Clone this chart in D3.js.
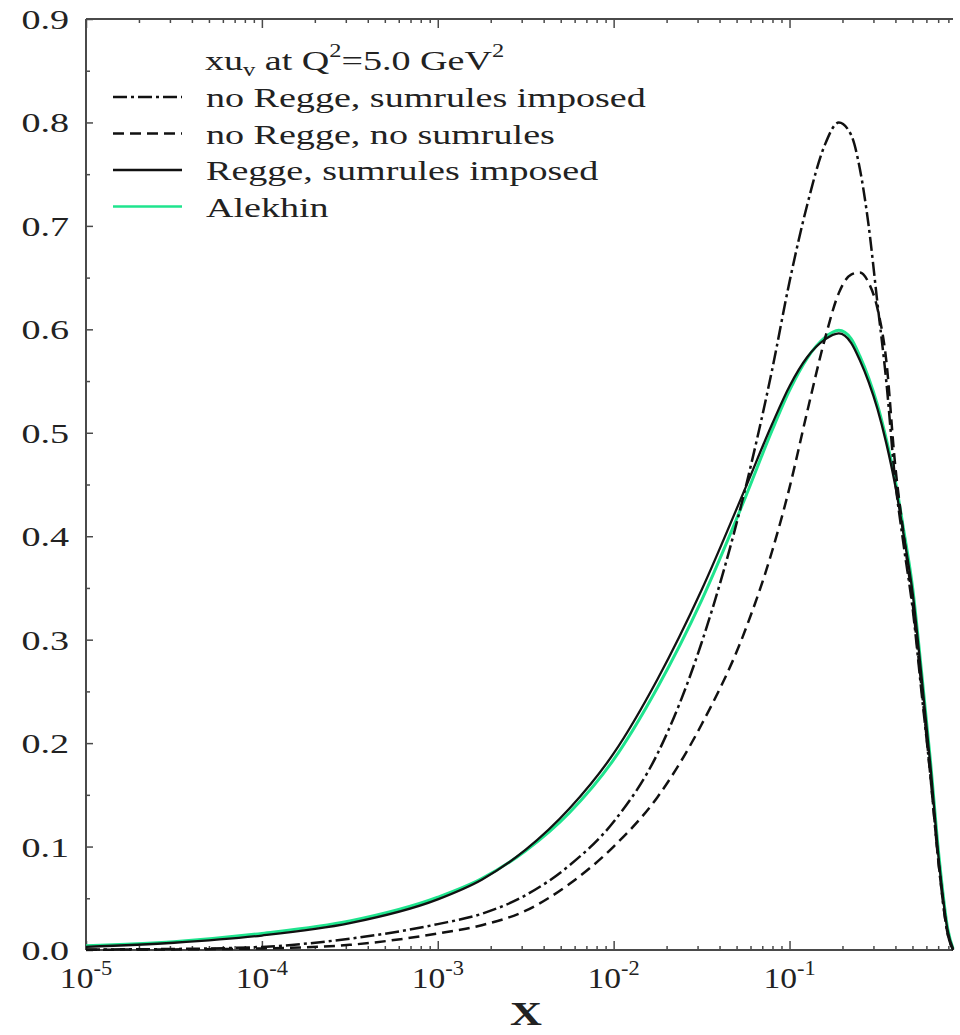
<!DOCTYPE html>
<meta charset="utf-8">
<style>
  body { margin: 0; background: #fff; }
  text { font-family: "Liberation Serif", "Times New Roman", serif; fill: #222; }
</style>
<script src="https://d3js.org/d3.v7.min.js"></script>
<div id="my_dataviz"></div>
<script>

// x grid, as log10(x)
var logX = [-5, -4.5, -4, -3.5, -3, -2.75, -2.5, -2.25, -2, -1.75, -1.5, -1.25, -1.1, -1,
            -0.9, -0.8, -0.72, -0.65, -0.6, -0.55, -0.5, -0.45, -0.4, -0.35, -0.3, -0.25,
            -0.2, -0.15, -0.1, -0.07];

// no Regge, sumrules imposed (dash-dot)
var noReggeSum = [0.0005, 0.001, 0.003, 0.011, 0.025, 0.035, 0.053, 0.082, 0.124, 0.19,
                  0.297, 0.447, 0.56, 0.646, 0.72, 0.778, 0.80, 0.788, 0.755, 0.70,
                  0.625, 0.55, 0.455, 0.39, 0.33, 0.25, 0.17, 0.08, 0.015, 0.0];

// no Regge, no sumrules (dashed)
var noReggeNoSum = [0.0003, 0.0006, 0.0015, 0.005, 0.016, 0.024, 0.038, 0.064, 0.10, 0.148,
                    0.218, 0.31, 0.385, 0.447, 0.52, 0.59, 0.635, 0.653, 0.655, 0.645,
                    0.62, 0.57, 0.47, 0.40, 0.335, 0.255, 0.17, 0.08, 0.015, 0.0];

// Regge, sumrules imposed (solid black)
var reggeSum = [0.003, 0.007, 0.014, 0.026, 0.049, 0.068, 0.097, 0.137, 0.19, 0.262,
                0.348, 0.447, 0.508, 0.545, 0.573, 0.59, 0.596, 0.587, 0.57, 0.549,
                0.523, 0.49, 0.45, 0.40, 0.345, 0.265, 0.18, 0.085, 0.018, 0.001];

// Alekhin (green)
var alekhin = [0.004, 0.008, 0.016, 0.028, 0.051, 0.069, 0.096, 0.133, 0.184, 0.254,
               0.338, 0.438, 0.502, 0.541, 0.572, 0.592, 0.599, 0.591, 0.574, 0.553,
               0.527, 0.494, 0.455, 0.405, 0.35, 0.27, 0.185, 0.09, 0.02, 0.001];

var yTicks = [0, 0.1, 0.2, 0.3, 0.4, 0.5, 0.6, 0.7, 0.8, 0.9];
var xDecades = [-5, -4, -3, -2, -1];
var legendNames = ["no Regge, sumrules imposed", "no Regge, no sumrules",
                   "Regge, sumrules imposed", "Alekhin"];

var W = 960, H = 1035;
var mLeft = 86, mRight = 953, mTop = 19, mBottom = 950;

var svg = d3.select("#my_dataviz").append("svg")
    .attr("width", W).attr("height", H);

var x = d3.scaleLog().domain([1e-5, 0.85]).range([mLeft, mRight]);
var y = d3.scaleLinear().domain([0, 0.9]).range([mBottom, mTop]);

// the source picture is stretched sideways, so text gets a horizontal scale
function label(sel, px, py, size, anchor, sx) {
  return sel.append("text")
    .attr("transform", "translate(" + px + "," + py + ") scale(" + (sx || 1.36) + ",1)")
    .attr("text-anchor", anchor)
    .style("font-size", size + "px");
}

// minor x ticks: 2..9 times each decade
var xMinor = [];
xDecades.forEach(function(d) {
  for (var k = 2; k <= 9; k++) {
    var v = k * Math.pow(10, d);
    if (v <= 0.85) xMinor.push(v);
  }
});
var xMajor = xDecades.map(function(d) { return Math.pow(10, d); });

var axisColor = "#4a4a4a";

// bottom and top axes (ticks point inward)
svg.append("g").attr("transform", "translate(0," + mBottom + ")")
  .call(d3.axisBottom(x).tickValues(xMajor).tickSize(-9).tickFormat(""));
svg.append("g").attr("transform", "translate(0," + mBottom + ")")
  .call(d3.axisBottom(x).tickValues(xMinor).tickSize(-4).tickFormat(""));
svg.append("g").attr("transform", "translate(0," + mTop + ")")
  .call(d3.axisTop(x).tickValues(xMajor).tickSize(-9).tickFormat(""));
svg.append("g").attr("transform", "translate(0," + mTop + ")")
  .call(d3.axisTop(x).tickValues(xMinor).tickSize(-4).tickFormat(""));

// left axis
var yMinor = d3.range(0.05, 0.9, 0.1);
svg.append("g").attr("transform", "translate(" + mLeft + ",0)")
  .call(d3.axisLeft(y).tickValues(yTicks).tickSize(-7).tickFormat(""));
svg.append("g").attr("transform", "translate(" + mLeft + ",0)")
  .call(d3.axisLeft(y).tickValues(yMinor).tickSize(-4).tickFormat(""));

svg.selectAll(".domain").remove();
svg.selectAll(".tick line").attr("stroke", axisColor).attr("stroke-width", 1.5);

// frame lines: left, top, bottom
svg.append("line").attr("x1", mLeft).attr("x2", mLeft).attr("y1", mTop).attr("y2", mBottom)
  .attr("stroke", axisColor).attr("stroke-width", 2);
svg.append("line").attr("x1", mLeft).attr("x2", mRight).attr("y1", mTop).attr("y2", mTop)
  .attr("stroke", axisColor).attr("stroke-width", 2);
svg.append("line").attr("x1", mLeft).attr("x2", mRight).attr("y1", mBottom).attr("y2", mBottom)
  .attr("stroke", axisColor).attr("stroke-width", 2);

// y tick labels
yTicks.forEach(function(t) {
  label(svg, 69, y(t) + 10, 28, "end").text(d3.format(".1f")(t));
});

// x tick labels 10^n
xDecades.forEach(function(d) {
  var t = label(svg, x(Math.pow(10, d)), 988, 30, "middle", 1.12);
  t.append("tspan").text("10");
  t.append("tspan").attr("dy", -13).style("font-size", "20px").text(String(d));
});

// axis title
label(svg, 526, 1025, 34, "middle", 1.3).style("font-weight", "bold").text("X");

// curves
var series = [
  {vals: alekhin,      color: "#1fe48e", dash: null,       width: 3},
  {vals: noReggeSum,   color: "#111",    dash: "14,4,3,4", width: 2.5},
  {vals: noReggeNoSum, color: "#111",    dash: "11,6",     width: 2.5},
  {vals: reggeSum,     color: "#111",    dash: null,       width: 2.3}
];

var line = d3.line()
  .x(function(d) { return x(Math.pow(10, d[0])); })
  .y(function(d) { return y(d[1]); })
  .curve(d3.curveMonotoneX);

var plot = svg.append("g");
series.forEach(function(s) {
  plot.append("path")
    .datum(logX.map(function(l, i) { return [l, s.vals[i]]; }))
    .attr("fill", "none")
    .attr("stroke", s.color)
    .attr("stroke-width", s.width)
    .attr("stroke-dasharray", s.dash)
    .attr("d", line);
});

// legend
var lg = svg.append("g");
var title = label(lg, 205, 70, 28, "start");
title.append("tspan").text("xu");
title.append("tspan").attr("dy", 6).style("font-size", "18px").text("v");
title.append("tspan").attr("dy", -6).text(" at Q");
title.append("tspan").attr("dy", -13).style("font-size", "18px").text("2");
title.append("tspan").attr("dy", 13).text("=5.0 GeV");
title.append("tspan").attr("dy", -13).style("font-size", "18px").text("2");

var legendStyle = [
  {color: "#111", dash: "14,4,3,4"},
  {color: "#111", dash: "11,6"},
  {color: "#111", dash: null},
  {color: "#1fe48e", dash: null}
];
legendNames.forEach(function(name, i) {
  var by = 107 + i * 36.5;
  lg.append("line")
    .attr("x1", 113).attr("x2", 182)
    .attr("y1", by - 10).attr("y2", by - 10)
    .attr("stroke", legendStyle[i].color)
    .attr("stroke-width", 2.3)
    .attr("stroke-dasharray", legendStyle[i].dash);
  label(lg, 206, by, 28, "start").text(name);
});

</script>
